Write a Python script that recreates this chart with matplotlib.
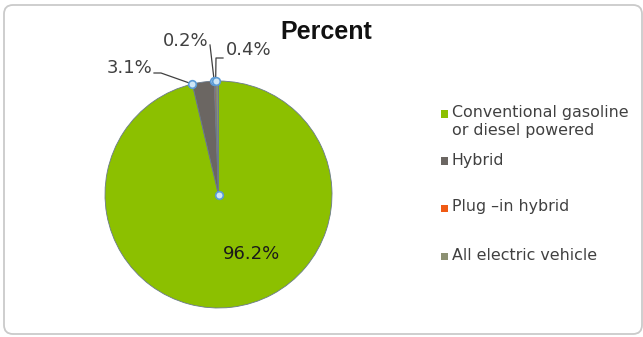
import matplotlib
matplotlib.use("Agg")
import matplotlib.pyplot as plt
from matplotlib.patches import FancyBboxPatch, Rectangle
from matplotlib.transforms import IdentityTransform
import numpy as np

categories = ["Conventional gasoline\nor diesel powered", "Hybrid", "Plug \u2013in hybrid", "All electric vehicle"]
values = [96.2, 3.1, 0.2, 0.4]
value_labels = ["96.2%", "3.1%", "0.2%", "0.4%"]
colors = ["#8CC000", "#6B6662", "#F05A14", "#8C9072"]
title = "Percent"

W, H = 643, 337
fig = plt.figure(figsize=(W / 100, H / 100), dpi=100)
fig.patch.set_facecolor("white")

# rounded border (pixel coordinates, origin bottom-left)
border = FancyBboxPatch((4, 3), 638, 329,
                        boxstyle="round,pad=0,rounding_size=9",
                        transform=IdentityTransform(), fill=False,
                        edgecolor="#CACACA", linewidth=1.3)
fig.patches.append(border)

cx, cy, r = 218.5, 194.5, 113.5
ax = fig.add_axes([(cx - r) / W, (H - cy - r) / H, 2 * r / W, 2 * r / H])
wedges, _ = ax.pie(values, colors=colors, startangle=90, counterclock=False,
                   radius=1.0,
                   wedgeprops=dict(edgecolor="#6A7A8C", linewidth=0.6))
ax.set_xlim(-1, 1)
ax.set_ylim(-1, 1)
ax.set_aspect("equal")
ax.axis("off")

def px(x, y):
    return ((x - cx) / r, (cy - y) / r)

font = "DejaVu Sans"
tx, ty = px(252, 254)
ax.text(tx, ty, value_labels[0], ha="center", va="center", fontsize=13,
        color="#1a1a1a", family=font)

def edge_point(w):
    ang = np.deg2rad(max(w.theta1, w.theta2))
    return np.cos(ang), np.sin(ang)

lc = "#404040"
# 3.1%
ex, ey = edge_point(wedges[1])
ax.text(*px(130, 68), value_labels[1], ha="center", va="center", fontsize=13,
        color="#404040", family=font, clip_on=False)
p1 = px(154, 73); p2 = px(161, 73)
ax.plot([p1[0], p2[0], ex], [p1[1], p2[1], ey], color=lc, lw=0.9, clip_on=False)
# 0.2%
ex2, ey2 = edge_point(wedges[2])
ax.text(*px(186, 41), value_labels[2], ha="center", va="center", fontsize=13,
        color="#404040", family=font, clip_on=False)
q1 = px(210, 45)
ax.plot([q1[0], ex2], [q1[1], ey2], color=lc, lw=0.9, clip_on=False)
# 0.4%
ex3, ey3 = edge_point(wedges[3])
ax.text(*px(249, 50), value_labels[3], ha="center", va="center", fontsize=13,
        color="#404040", family=font, clip_on=False)
s1 = px(223, 58); s2 = px(216, 58)
ax.plot([s1[0], s2[0], ex3], [s1[1], s2[1], ey3], color=lc, lw=0.9, clip_on=False)

# selection handles
hx = [0, ex, ex2, ex3]
hy = [0, ey, ey2, ey3]
ax.plot(hx, hy, linestyle="none", marker="o", markersize=5.5,
        markerfacecolor="#CFE6F5", markeredgecolor="#5B9BD5", markeredgewidth=1.2,
        clip_on=False, zorder=5)

# title
fig.text(326.5 / W, 1 - 32 / H, title, ha="center", va="center", fontsize=18,
         fontweight="bold", family="Liberation Sans", color="#111111")

# legend
slot_y = [114, 161, 208, 256]
for i, (lab, col) in enumerate(zip(categories, colors)):
    y = slot_y[i]
    fig.patches.append(Rectangle((441 / W, 1 - (y + 3.5) / H), 7 / W, 7 / H,
                                 transform=fig.transFigure, facecolor=col,
                                 edgecolor="none"))
    fig.text(452 / W, 1 - (y - 8.5) / H, lab, ha="left", va="top", fontsize=11.4,
             family=font, color="#404040", linespacing=1.25)

fig.savefig("out.png", dpi=100, facecolor="white")
